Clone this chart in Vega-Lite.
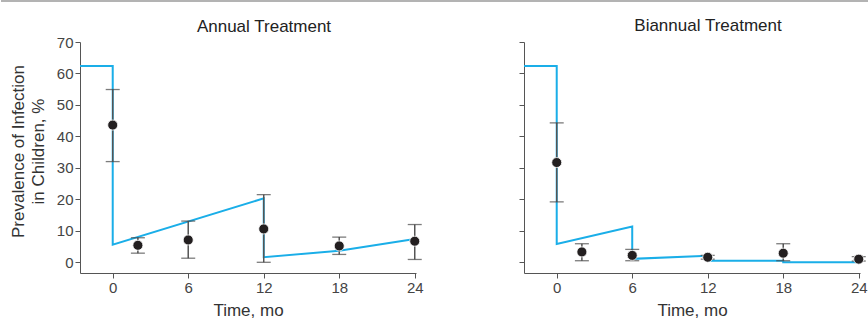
{
  "$schema": "https://vega.github.io/schema/vega-lite/v6.json",
  "padding": {"left": 0, "right": 0, "top": 0, "bottom": 0},
  "background": "white",
  "datasets": {
    "model": [
      {"panel": "Annual", "i": 1, "t": -2.6, "p": 62.4},
      {"panel": "Annual", "i": 2, "t": 0, "p": 62.4},
      {"panel": "Annual", "i": 3, "t": 0, "p": 5.6},
      {"panel": "Annual", "i": 4, "t": 12, "p": 20.3},
      {"panel": "Annual", "i": 5, "t": 12, "p": 1.6},
      {"panel": "Annual", "i": 6, "t": 18, "p": 3.7},
      {"panel": "Annual", "i": 7, "t": 24, "p": 7.4},
      {"panel": "Biannual", "i": 1, "t": -2.6, "p": 62.4},
      {"panel": "Biannual", "i": 2, "t": 0, "p": 62.4},
      {"panel": "Biannual", "i": 3, "t": 0, "p": 5.8},
      {"panel": "Biannual", "i": 4, "t": 6, "p": 11.4},
      {"panel": "Biannual", "i": 5, "t": 6, "p": 1.1},
      {"panel": "Biannual", "i": 6, "t": 12, "p": 2.1},
      {"panel": "Biannual", "i": 7, "t": 12, "p": 0.5},
      {"panel": "Biannual", "i": 8, "t": 18, "p": 0.5},
      {"panel": "Biannual", "i": 9, "t": 18, "p": 0.0},
      {"panel": "Biannual", "i": 10, "t": 24, "p": 0.0}
    ],
    "obs": [
      {"panel": "Annual", "t": 0, "p": 43.6, "lo": 32.0, "hi": 54.9},
      {"panel": "Annual", "t": 2, "p": 5.4, "lo": 2.9, "hi": 7.8},
      {"panel": "Annual", "t": 6, "p": 7.1, "lo": 1.3, "hi": 13.1},
      {"panel": "Annual", "t": 12, "p": 10.6, "lo": 0.0, "hi": 21.5},
      {"panel": "Annual", "t": 18, "p": 5.2, "lo": 2.5, "hi": 8.0},
      {"panel": "Annual", "t": 24, "p": 6.7, "lo": 0.9, "hi": 12.0},
      {"panel": "Biannual", "t": 0, "p": 31.7, "lo": 19.2, "hi": 44.3},
      {"panel": "Biannual", "t": 2, "p": 3.3, "lo": 0.5, "hi": 5.9},
      {"panel": "Biannual", "t": 6, "p": 2.2, "lo": 0.5, "hi": 4.1},
      {"panel": "Biannual", "t": 12, "p": 1.6, "lo": 1.0, "hi": 2.2},
      {"panel": "Biannual", "t": 18, "p": 2.9, "lo": 0.5, "hi": 5.9},
      {"panel": "Biannual", "t": 24, "p": 1.0, "lo": 0.4, "hi": 1.8}
    ]
  },
  "config": {
    "view": {"stroke": null},
    "font": "Liberation Sans",
    "axis": {
      "domainColor": "#555",
      "tickColor": "#555",
      "labelColor": "#444",
      "titleColor": "#333",
      "labelFontSize": 15,
      "titleFontSize": 17,
      "titleFontWeight": "normal",
      "grid": false,
      "tickSize": 5,
      "labelPadding": 2
    },
    "axisY": {"tickCount": 8},
    "title": {"fontSize": 17, "fontWeight": "normal", "color": "#222"}
  },
  "spacing": 14,
  "vconcat": [
    {
      "width": 336,
      "height": 1,
      "data": {"values": [{"from": -8.88, "to": 60.1, "level": 0}]},
      "mark": {"type": "rule", "color": "#9a9a9a", "strokeWidth": 1.6},
      "encoding": {
        "x": {"field": "from", "type": "quantitative", "scale": {"domain": [-2.6, 24.1], "nice": false, "zero": false}, "axis": null},
        "x2": {"field": "to"},
        "y": {"field": "level", "type": "quantitative", "scale": {"domain": [0, 1]}, "axis": null}
      }
    },
    {
      "hconcat": [
        {
          "title": {"text": "Annual Treatment", "dx": 16, "offset": -1},
          "width": 336,
          "height": 231,
          "layer": [
            {
              "data": {"name": "model"},
              "transform": [{"filter": "datum.panel === 'Annual'"}],
              "mark": {"type": "line", "color": "#1aaee8", "strokeWidth": 2},
              "encoding": {
                "x": {"field": "t", "type": "quantitative", "scale": {"domain": [-2.6, 24.1], "nice": false, "zero": false},
                  "axis": {"values": [0, 6, 12, 18, 24], "title": "Time, mo", "titlePadding": 7}},
                "y": {"field": "p", "type": "quantitative", "scale": {"domain": [-3.4, 70], "nice": false},
                  "axis": {"values": [0, 10, 20, 30, 40, 50, 60, 70], "title": ["Prevalence of Infection", "in Children, %"], "titlePadding": 9, "titleLineHeight": 20, "titleY": 109}},
                "order": {"field": "i", "type": "quantitative"}
              }
            },
            {
              "data": {"name": "obs"},
              "transform": [{"filter": "datum.panel === 'Annual'"}],
              "layer": [
                {"mark": {"type": "rule", "color": "#555", "strokeWidth": 1.5},
                  "encoding": {"x": {"field": "t", "type": "quantitative"},
                    "y": {"field": "lo", "type": "quantitative", "axis": {"values": [0, 10, 20, 30, 40, 50, 60, 70], "title": ["Prevalence of Infection", "in Children, %"], "titlePadding": 9, "titleLineHeight": 20, "titleY": 109}},
                    "y2": {"field": "hi"}}},
                {"mark": {"type": "tick", "orient": "horizontal", "size": 14, "thickness": 1.3, "color": "#444"},
                  "encoding": {"x": {"field": "t", "type": "quantitative"},
                    "y": {"field": "lo", "type": "quantitative", "axis": {"values": [0, 10, 20, 30, 40, 50, 60, 70], "title": ["Prevalence of Infection", "in Children, %"], "titlePadding": 9, "titleLineHeight": 20, "titleY": 109}}}},
                {"mark": {"type": "tick", "orient": "horizontal", "size": 14, "thickness": 1.3, "color": "#444"},
                  "encoding": {"x": {"field": "t", "type": "quantitative"},
                    "y": {"field": "hi", "type": "quantitative", "axis": {"values": [0, 10, 20, 30, 40, 50, 60, 70], "title": ["Prevalence of Infection", "in Children, %"], "titlePadding": 9, "titleLineHeight": 20, "titleY": 109}}}},
                {"mark": {"type": "circle", "size": 100, "color": "#231f20", "opacity": 1, "stroke": "white", "strokeWidth": 0.8},
                  "encoding": {"x": {"field": "t", "type": "quantitative"},
                    "y": {"field": "p", "type": "quantitative", "axis": {"values": [0, 10, 20, 30, 40, 50, 60, 70], "title": ["Prevalence of Infection", "in Children, %"], "titlePadding": 9, "titleLineHeight": 20, "titleY": 109}}}}
              ]
            }
          ]
        },
        {
          "title": {"text": "Biannual Treatment", "dx": 16, "offset": 7},
          "width": 336,
          "height": 231,
          "layer": [
            {
              "data": {"name": "model"},
              "transform": [{"filter": "datum.panel === 'Biannual'"}],
              "mark": {"type": "line", "color": "#1aaee8", "strokeWidth": 2},
              "encoding": {
                "x": {"field": "t", "type": "quantitative", "scale": {"domain": [-2.6, 24.1], "nice": false, "zero": false},
                  "axis": {"values": [0, 6, 12, 18, 24], "title": "Time, mo", "titlePadding": 7}},
                "y": {"field": "p", "type": "quantitative", "scale": {"domain": [-3.4, 70], "nice": false},
                  "axis": {"values": [0, 10, 20, 30, 40, 50, 60, 70], "title": null, "labels": false}},
                "order": {"field": "i", "type": "quantitative"}
              }
            },
            {
              "data": {"name": "obs"},
              "transform": [{"filter": "datum.panel === 'Biannual'"}],
              "layer": [
                {"mark": {"type": "rule", "color": "#555", "strokeWidth": 1.5},
                  "encoding": {"x": {"field": "t", "type": "quantitative"},
                    "y": {"field": "lo", "type": "quantitative", "axis": {"values": [0, 10, 20, 30, 40, 50, 60, 70], "title": null, "labels": false}},
                    "y2": {"field": "hi"}}},
                {"mark": {"type": "tick", "orient": "horizontal", "size": 14, "thickness": 1.3, "color": "#444"},
                  "encoding": {"x": {"field": "t", "type": "quantitative"},
                    "y": {"field": "lo", "type": "quantitative", "axis": {"values": [0, 10, 20, 30, 40, 50, 60, 70], "title": null, "labels": false}}}},
                {"mark": {"type": "tick", "orient": "horizontal", "size": 14, "thickness": 1.3, "color": "#444"},
                  "encoding": {"x": {"field": "t", "type": "quantitative"},
                    "y": {"field": "hi", "type": "quantitative", "axis": {"values": [0, 10, 20, 30, 40, 50, 60, 70], "title": null, "labels": false}}}},
                {"mark": {"type": "circle", "size": 100, "color": "#231f20", "opacity": 1, "stroke": "white", "strokeWidth": 0.8},
                  "encoding": {"x": {"field": "t", "type": "quantitative"},
                    "y": {"field": "p", "type": "quantitative", "axis": {"values": [0, 10, 20, 30, 40, 50, 60, 70], "title": null, "labels": false}}}}
              ]
            }
          ]
        }
      ],
      "spacing": 108,
      "bounds": "flush"
    }
  ]
}
